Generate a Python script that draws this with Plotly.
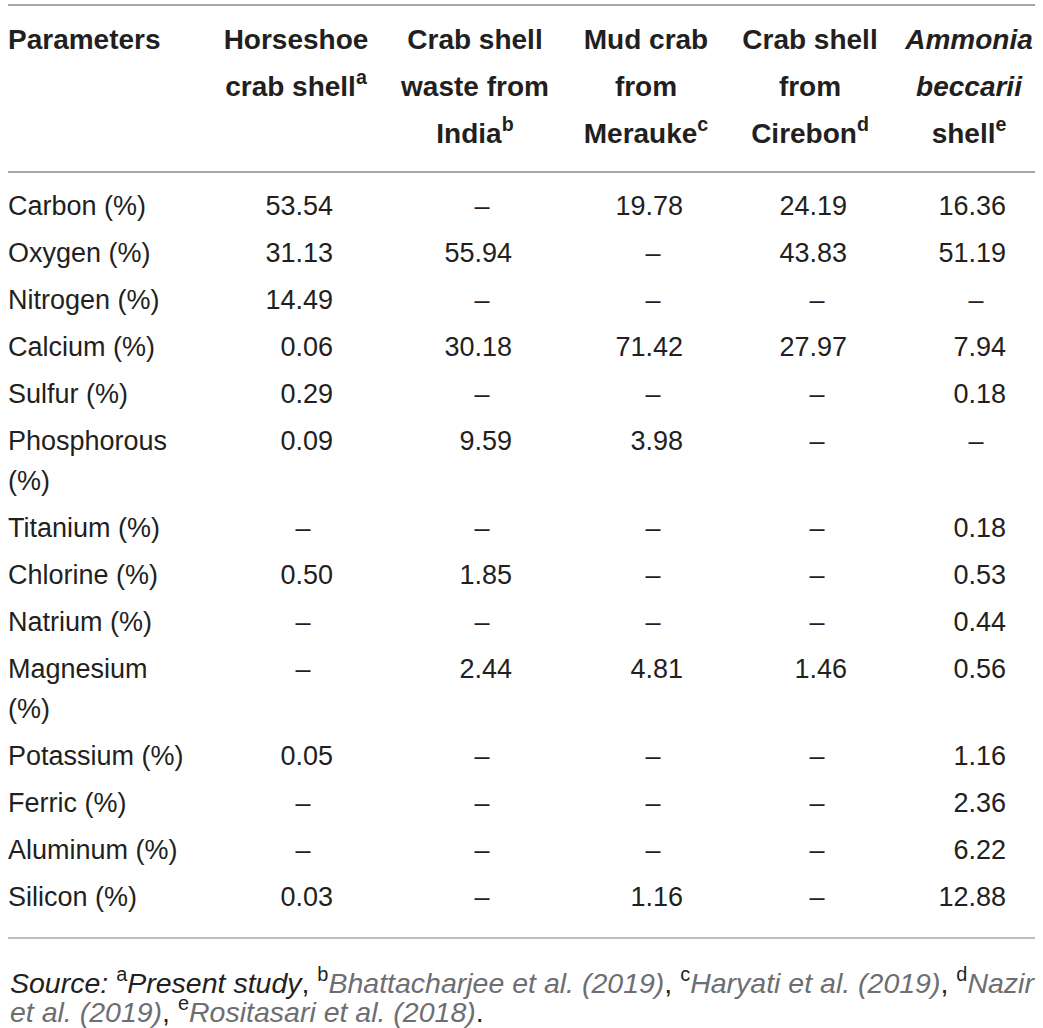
import plotly.graph_objects as go

# table contents
params = ["Carbon (%)", "Oxygen (%)", "Nitrogen (%)", "Calcium (%)", "Sulfur (%)",
          "Phosphorous<br>(%)", "Titanium (%)", "Chlorine (%)", "Natrium (%)",
          "Magnesium<br>(%)", "Potassium (%)", "Ferric (%)", "Aluminum (%)", "Silicon (%)"]

headers = [
    ["Horseshoe", "crab shell<sup>a</sup>"],
    ["Crab shell", "waste from", "India<sup>b</sup>"],
    ["Mud crab", "from", "Merauke<sup>c</sup>"],
    ["Crab shell", "from", "Cirebon<sup>d</sup>"],
    ["<i>Ammonia</i>", "<i>beccarii</i>", "shell<sup>e</sup>"],
]

horseshoe = [53.54, 31.13, 14.49, 0.06, 0.29, 0.09, None, 0.50, None, None, 0.05, None, None, 0.03]
india = [None, 55.94, None, 30.18, None, 9.59, None, 1.85, None, 2.44, None, None, None, None]
merauke = [19.78, None, None, 71.42, None, 3.98, None, None, None, 4.81, None, None, None, 1.16]
cirebon = [24.19, 43.83, None, 27.97, None, None, None, None, None, 1.46, None, None, None, None]
ammonia = [16.36, 51.19, None, 7.94, 0.18, None, 0.18, 0.53, 0.44, 0.56, 1.16, 2.36, 6.22, 12.88]

sources = [("a", "Present study", False),
           ("b", "Bhattacharjee et al. (2019)", True),
           ("c", "Haryati et al. (2019)", True),
           ("d", "Nazir et al. (2019)", True),
           ("e", "Rositasari et al. (2018)", True)]

columns = [horseshoe, india, merauke, cirebon, ammonia]

W, H = 1043, 1028
FONT = "Liberation Sans, Arial, Helvetica, sans-serif"
INK = "#231f20"
GREY = "#6d6e71"

col_x = [296, 475, 646, 810, 969]   # column centres
left_x = 8
right_x = 1035

# vertical layout: first line of each body row
row_y = []
y = 208
for p in params:
    row_y.append(y)
    y += 47 + 40 * (len(p.split("<br>")) - 1)

fig = go.Figure()

# parameter labels
lx, ly, lt = [], [], []
for p, ry in zip(params, row_y):
    for k, part in enumerate(p.split("<br>")):
        lx.append(left_x)
        ly.append(ry + 40 * k)
        lt.append(part)
fig.add_trace(go.Scatter(x=lx, y=ly, text=lt, mode="text", textposition="middle right",
                         textfont=dict(family=FONT, size=27, color=INK), hoverinfo="skip"))

# values (decimal-ish alignment) and dashes
for cx, vals in zip(col_x, columns):
    vx, vy, vt, dx, dy = [], [], [], [], []
    for v, ry in zip(vals, row_y):
        if v is None:
            dx.append(cx + 7)
            dy.append(ry)
        else:
            vx.append(cx + 37)
            vy.append(ry)
            vt.append(f"{v:.2f}")
    fig.add_trace(go.Scatter(x=vx, y=vy, text=vt, mode="text", textposition="middle left",
                             textfont=dict(family=FONT, size=27, color=INK), hoverinfo="skip"))
    fig.add_trace(go.Scatter(x=dx, y=dy, text=["\u2013"] * len(dx), mode="text",
                             textposition="middle center",
                             textfont=dict(family=FONT, size=27, color=INK), hoverinfo="skip"))

# header
fig.add_trace(go.Scatter(x=[left_x], y=[42], text=["<b>Parameters</b>"], mode="text",
                         textposition="middle right",
                         textfont=dict(family=FONT, size=28, color=INK), hoverinfo="skip"))
hx, hy, ht = [], [], []
for cx, lines in zip(col_x, headers):
    for k, line in enumerate(lines):
        hx.append(cx)
        hy.append(42 + 47 * k)
        ht.append(f"<b>{line}</b>")
fig.add_trace(go.Scatter(x=hx, y=hy, text=ht, mode="text", textposition="middle center",
                         textfont=dict(family=FONT, size=28, color=INK), hoverinfo="skip"))

# rules
for yy, c in [(5, "#8a8a8a"), (172, "#8a8a8a"), (938, "#a8a8a8")]:
    fig.add_shape(type="line", x0=left_x, x1=right_x, y0=yy, y1=yy, xref="x", yref="y",
                  line=dict(color=c, width=1.6))


# footnote
def src(tag, text, grey):
    body = f"<i>{text}</i>"
    if grey:
        body = f"<span style='color:{GREY}'>{body}</span>"
    return f"<sup>{tag}</sup>{body}"


line1 = ("<i>Source:</i> " + src(*sources[0]) + ", " + src(*sources[1]) + ", "
         + src(*sources[2]) + ", "
         + src(sources[3][0], "Nazir", True))
line2 = (f"<span style='color:{GREY}'><i>et al. (2019)</i></span>, "
         + src(*sources[4]) + ".")
for yy, txt in [(981, line1), (1010, line2)]:
    fig.add_annotation(x=left_x, y=yy, xref="x", yref="y", text=txt, showarrow=False,
                       xanchor="left", yanchor="middle",
                       font=dict(family=FONT, size=28.5, color=INK))

fig.update_layout(
    width=W, height=H, margin=dict(l=0, r=0, t=0, b=0),
    paper_bgcolor="white", plot_bgcolor="white", showlegend=False,
    xaxis=dict(range=[0, W], visible=False, fixedrange=True),
    yaxis=dict(range=[H, 0], visible=False, fixedrange=True),
)

fig.write_html("out.html", config={"displayModeBar": False},
               post_script="document.body.style.margin='0px';")
